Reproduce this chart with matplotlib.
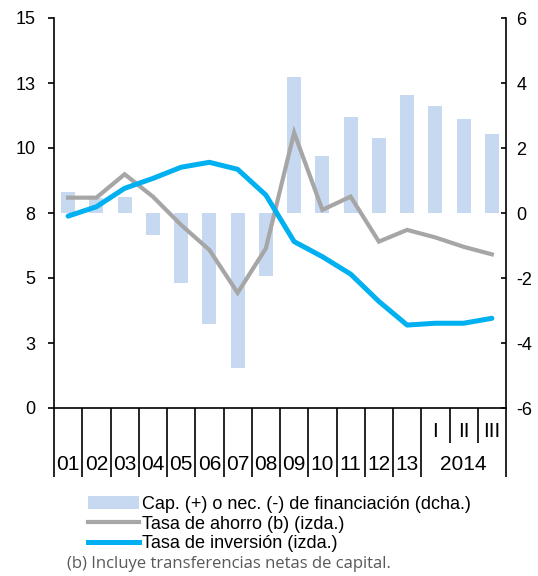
import matplotlib
matplotlib.use("Agg")
import matplotlib.pyplot as plt
from matplotlib.patches import Patch
from matplotlib.lines import Line2D
import numpy as np

# categories: years 2001-2013, then 2014 quarters
CATEGORIES = ["01", "02", "03", "04", "05", "06", "07", "08", "09", "10",
              "11", "12", "13", "I", "II", "III"]
N_YEARS = 13

# capacidad / necesidad de financiación (right axis)
CAP_FIN = [0.66, 0.45, 0.50, -0.68, -2.16, -3.42, -4.78, -1.94,
           4.19, 1.76, 2.94, 2.32, 3.62, 3.28, 2.89, 2.43]
# tasa de ahorro (left axis)
AHORRO = [8.09, 8.09, 8.99, 8.13, 7.04, 6.08, 4.43, 6.14,
          10.59, 7.62, 8.13, 6.40, 6.85, 6.56, 6.20, 5.91]
# tasa de inversión (left axis)
INVERSION = [7.38, 7.74, 8.45, 8.83, 9.26, 9.45, 9.18, 8.19,
             6.40, 5.82, 5.15, 4.10, 3.19, 3.26, 3.26, 3.45]

LEFT_TICKS = [0, 2.5, 5, 7.5, 10, 12.5, 15]
LEFT_LABELS = ["0", "3", "5", "8", "10", "13", "15"]
RIGHT_TICKS = [-6, -4, -2, 0, 2, 4, 6]

BAR = "#C6D9F1"
GREY = "#A6A6A6"
BLUE = "#00B0F0"

plt.rcParams.update({
    "font.family": ["Liberation Sans", "DejaVu Sans"],
    "font.size": 13,
    "axes.linewidth": 1.2,
})

fig = plt.figure(figsize=(5.38, 5.76), dpi=100)
ax = fig.add_axes([54 / 538, 1 - 408 / 576, 452 / 538, 390 / 576])
ax2 = ax.twinx()

x = np.arange(len(CATEGORIES))
ax2.bar(x, CAP_FIN, width=0.5, color=BAR, zorder=1)
ax.plot(x, AHORRO, color=GREY, linewidth=3.0, solid_joinstyle="miter", zorder=3)
ax.plot(x, INVERSION, color=BLUE, linewidth=3.6, solid_capstyle="round", zorder=4)

ax.set_zorder(ax2.get_zorder() + 1)
ax.patch.set_visible(False)

ax.set_xlim(-0.5, len(CATEGORIES) - 0.5)
ax.set_ylim(0, 15)
ax2.set_ylim(-6, 6)

ax.set_yticks(LEFT_TICKS, LEFT_LABELS)
ax2.set_yticks(RIGHT_TICKS, [str(v) for v in RIGHT_TICKS])
ax.tick_params(axis="y", direction="out", length=4.3, width=1.2, pad=9)
ax2.tick_params(axis="y", direction="in", length=3.6, width=1.2, pad=7.5)

for a in (ax, ax2):
    a.spines["top"].set_visible(False)
ax.spines["right"].set_visible(False)
ax2.spines["left"].set_visible(False)
ax2.spines["bottom"].set_visible(False)

# x labels: years and quarters
ax.set_xticks(x, CATEGORIES, fontsize=15)
ax.tick_params(axis="x", length=0)
for i, tick in enumerate(ax.xaxis.get_major_ticks()):
    tick.set_pad(34 if i < N_YEARS else 10)
ax.text(x[N_YEARS:].mean(), -0.146, "2014", transform=ax.get_xaxis_transform(),
        ha="center", va="center", fontsize=15)

# category boundary marks below the axis
edges = np.arange(len(CATEGORIES) + 1) - 0.5
long_edges = [e for i, e in enumerate(edges) if i <= N_YEARS or i == len(CATEGORIES)]
short_edges = [e for i, e in enumerate(edges) if N_YEARS < i < len(CATEGORIES)]
xt = ax.get_xaxis_transform()
ax.vlines(long_edges, -0.177, 0, transform=xt, color="black", linewidth=1.2,
          clip_on=False)
ax.vlines(short_edges, -0.09, 0, transform=xt, color="black", linewidth=1.2,
          clip_on=False)

handles = [
    Patch(facecolor=BAR, edgecolor="none"),
    Line2D([], [], color=GREY, linewidth=3.0),
    Line2D([], [], color=BLUE, linewidth=3.6),
]
labels = [
    "Cap. (+) o nec. (-) de financiación (dcha.)",
    "Tasa de ahorro (b) (izda.)",
    "Tasa de inversión (izda.)",
]
fig.legend(handles, labels, loc="upper left", bbox_to_anchor=(88 / 538, 1 - 496 / 576),
           frameon=False, fontsize=13, handlelength=2.8, handleheight=0.75,
           handletextpad=0.2, labelspacing=0.15, borderpad=0, borderaxespad=0)

fig.text(67 / 538, 1 - 564 / 576, "(b) Incluye transferencias netas de capital.",
         fontsize=12, color="#595959", va="center", ha="left",
         family=["Open Sans", "DejaVu Sans"])

fig.savefig("out.png", dpi=100)
